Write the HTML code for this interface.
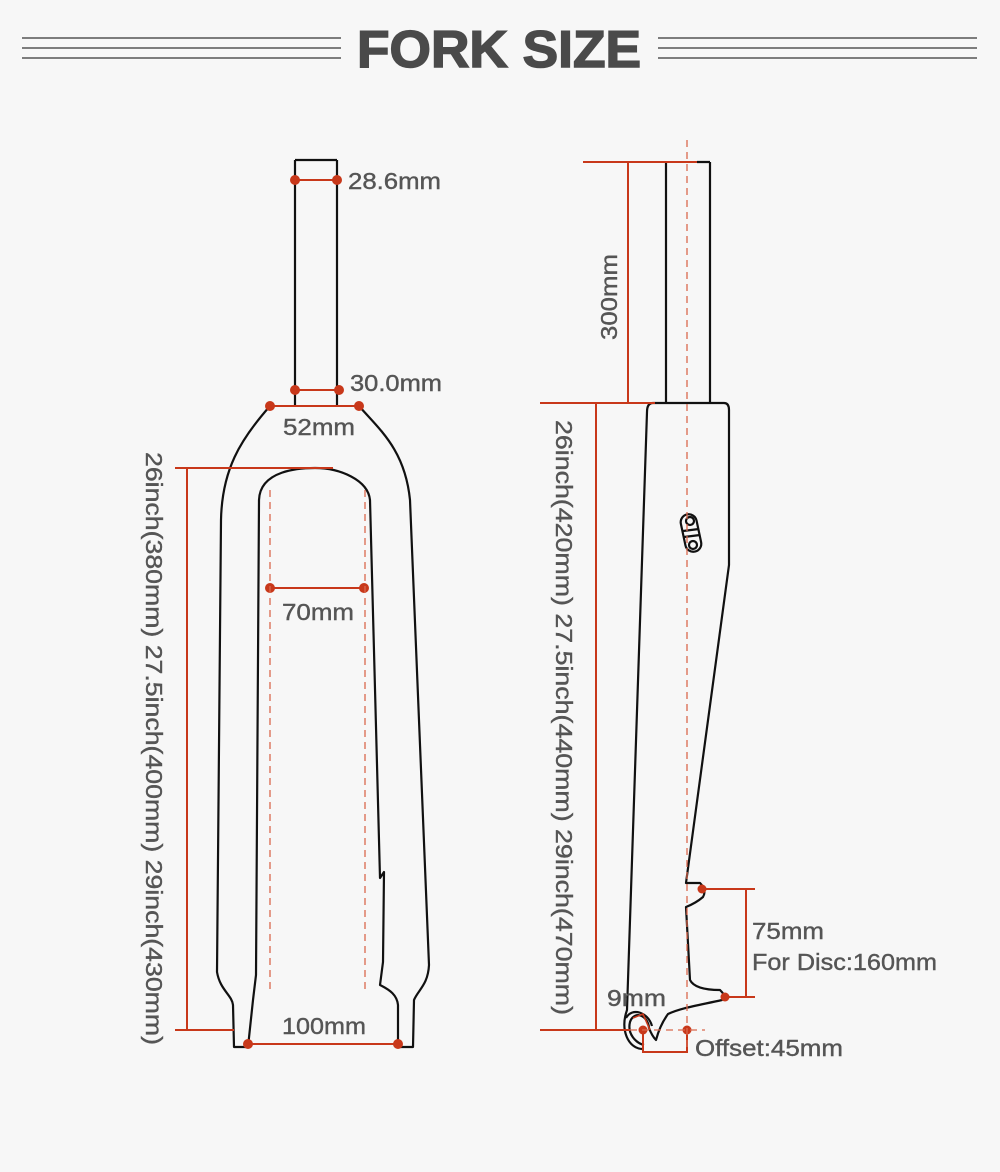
<!DOCTYPE html>
<html><head><meta charset="utf-8"><style>
html,body{margin:0;padding:0;background:#f7f7f7;}
svg{display:block}
text{font-family:"Liberation Sans",sans-serif;fill:#555;}
</style></head><body>
<svg width="1000" height="1172" viewBox="0 0 1000 1172" xmlns="http://www.w3.org/2000/svg">
<rect width="1000" height="1172" fill="#f7f7f7"/>
<g stroke="#555" stroke-width="1.5">
<line x1="22" y1="38" x2="341" y2="38"/><line x1="22" y1="48" x2="341" y2="48"/><line x1="22" y1="58" x2="341" y2="58"/>
<line x1="658" y1="38" x2="977" y2="38"/><line x1="658" y1="48" x2="977" y2="48"/><line x1="658" y1="58" x2="977" y2="58"/>
</g>
<text x="357" y="67" font-size="52" font-weight="bold" textLength="284" lengthAdjust="spacingAndGlyphs" style="fill:#4a4a4a;stroke:#4a4a4a;stroke-width:1.5">FORK SIZE</text>

<!-- LEFT FORK -->
<g fill="none" stroke="#111" stroke-width="2.2" stroke-linejoin="round">
<path d="M295,160 V406 M337,160 V406 M295,160 H337"/>
<path d="M270,406 C240,440 222,470 221,520 L217,972 C220,990 232,995 233,1005 L234,1047 H248 L253,1000 L256,975 L259,500 C260,470 300,468 315,468 C340,468 368,480 370,500 L380,878 L384,872 L383,962 L380,985 C390,990 397,995 398,1005 L398,1047 H413 L414,1000 C418,990 428,985 429,965 L410,500 C405,450 380,430 359,406"/>
</g>
<g stroke="#c8381a" stroke-width="2" fill="#c8381a">
<line x1="295" y1="180" x2="337" y2="180"/><circle cx="295" cy="180" r="4"/><circle cx="337" cy="180" r="4"/>
<line x1="295" y1="390" x2="339" y2="390"/><circle cx="295" cy="390" r="4"/><circle cx="339" cy="390" r="4"/>
<line x1="270" y1="406" x2="359" y2="406"/><circle cx="270" cy="406" r="4"/><circle cx="359" cy="406" r="4"/>
<line x1="270" y1="588" x2="364" y2="588"/><circle cx="270" cy="588" r="4"/><circle cx="364" cy="588" r="4"/>
<line x1="248" y1="1044" x2="398" y2="1044"/><circle cx="248" cy="1044" r="4"/><circle cx="398" cy="1044" r="4"/>
<line x1="175" y1="468" x2="333" y2="468" fill="none"/>
<line x1="187" y1="468" x2="187" y2="1030" fill="none"/>
<line x1="175" y1="1030" x2="234" y2="1030" fill="none"/>
</g>
<g stroke="#d9684e" stroke-width="1.3" stroke-dasharray="7,5">
<line x1="270" y1="490" x2="270" y2="993"/><line x1="365" y1="490" x2="365" y2="993"/>
</g>
<g font-size="23.5" style="stroke:#555;stroke-width:0.4">
<text x="348" y="189" textLength="93" lengthAdjust="spacingAndGlyphs">28.6mm</text>
<text x="350" y="391" textLength="92" lengthAdjust="spacingAndGlyphs">30.0mm</text>
<text x="283" y="435" textLength="72" lengthAdjust="spacingAndGlyphs">52mm</text>
<text x="282" y="620" textLength="72" lengthAdjust="spacingAndGlyphs">70mm</text>
<text x="282" y="1034" textLength="84" lengthAdjust="spacingAndGlyphs">100mm</text>
<text transform="translate(146,452) rotate(90)" textLength="593" lengthAdjust="spacingAndGlyphs">26inch(380mm) 27.5inch(400mm) 29inch(430mm)</text>
</g>

<!-- RIGHT FORK -->
<g fill="none" stroke="#111" stroke-width="2.2" stroke-linejoin="round">
<path d="M666,162 V403 M710,162 V403 M697,162 H710"/>
<path d="M653,403 H724 Q729,403 729,410 L729,565 L686,883 H700 Q707,890 703,897 Q696,903 686,907 L690,980 Q695,990 720,990 Q728,998 722,1000 C700,1005 680,1008 668,1014 Q660,1025 656,1040 Q652,1036 649,1028 M653,403 Q647,403 647,412 L627,1010 C620,1030 628,1048 642,1049"/>
<path d="M649,1028 C648,1015 634,1010 630,1022 C627,1034 636,1043 644,1045"/>
<path d="M652,1026 C648,1012 632,1007 626,1018"/>
<rect x="683" y="514" width="16" height="38" rx="8" transform="rotate(-12 691 533)"/>
<circle cx="690" cy="521" r="4"/><circle cx="693" cy="545" r="4"/>
<line x1="683" y1="531" x2="699" y2="529"/><line x1="684" y1="537" x2="700" y2="535"/>
</g>
<g stroke="#c8381a" stroke-width="2" fill="none">
<line x1="583" y1="162" x2="697" y2="162"/>
<line x1="628" y1="162" x2="628" y2="403"/>
<line x1="540" y1="403" x2="655" y2="403"/>
<line x1="596" y1="403" x2="596" y2="1030"/>
<line x1="540" y1="1030" x2="630" y2="1030"/>
<path d="M702,889 H755 M746,889 V997 M725,997 H755"/>
<path d="M643,1030 V1052 H687 V1030"/>
<path d="M633,1018 L643,1014 L650,1030" stroke-width="1.6"/>
</g>
<g fill="#c8381a">
<circle cx="702" cy="889" r="4.5"/><circle cx="725" cy="997" r="4.5"/>
<circle cx="643" cy="1030" r="4.5"/><circle cx="687" cy="1030" r="4.5"/>
</g>
<g stroke="#d9684e" stroke-width="1.3" stroke-dasharray="7,5">
<line x1="687" y1="140" x2="687" y2="1052"/>
<line x1="630" y1="1030" x2="705" y2="1030"/>
</g>
<g font-size="23.5" style="stroke:#555;stroke-width:0.4">
<text transform="translate(617,340) rotate(-90)" textLength="86" lengthAdjust="spacingAndGlyphs">300mm</text>
<text transform="translate(556,420) rotate(90)" textLength="595" lengthAdjust="spacingAndGlyphs">26inch(420mm) 27.5inch(440mm) 29inch(470mm)</text>
<text x="752" y="939" textLength="72" lengthAdjust="spacingAndGlyphs">75mm</text>
<text x="752" y="970" textLength="185" lengthAdjust="spacingAndGlyphs">For Disc:160mm</text>
<text x="607" y="1006" textLength="59" lengthAdjust="spacingAndGlyphs">9mm</text>
<text x="695" y="1056" textLength="148" lengthAdjust="spacingAndGlyphs">Offset:45mm</text>
</g>
</svg>
</body></html>
